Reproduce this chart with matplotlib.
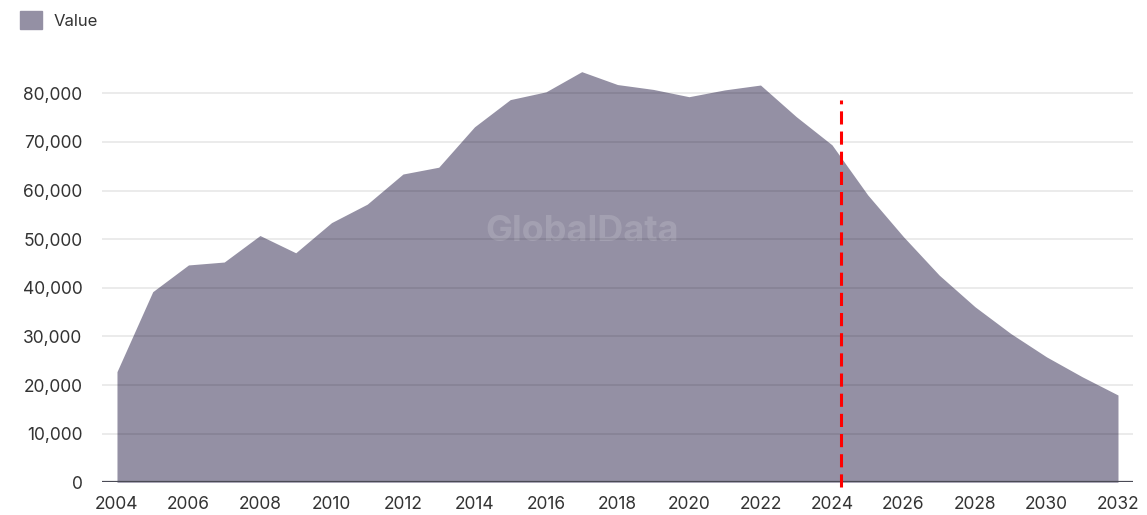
import matplotlib
matplotlib.use('Agg')
import matplotlib.pyplot as plt
from matplotlib.patches import Patch
from matplotlib.ticker import FuncFormatter

# data
years = list(range(2004, 2033))
values = [22750, 39200, 44700, 45300, 50750, 47200, 53400, 57200, 63400, 64800,
          73100, 78700, 80300, 84450, 81800, 80800, 79300, 80700, 81700, 75200,
          69400, 59100, 50500, 42600, 36100, 30600, 25800, 21700, 17950]
year_ticks = list(range(2004, 2033, 2))
value_ticks = [0, 10000, 20000, 30000, 40000, 50000, 60000, 70000, 80000]
forecast_start = 2024.26
series_name = 'Value'

fill_color = '#9490a4'
text_color = '#333333'

plt.rcParams['font.family'] = ['Inter', 'DejaVu Sans']

fig = plt.figure(figsize=(11.47, 5.15), dpi=100)
ax = fig.add_axes([0.0889, 0.0635, 0.8989, 0.820])

ax.fill_between(years, values, 0, color=fill_color, linewidth=0, zorder=1)

ax.set_xlim(2003.58, 2032.42)
ax.set_ylim(0, 86850)
ax.set_xticks(year_ticks)
ax.set_yticks(value_ticks)
ax.yaxis.set_major_formatter(FuncFormatter(lambda v, p: f'{int(v):,}'))
ax.tick_params(length=0, labelsize=12.5, labelcolor=text_color)
ax.tick_params(axis='x', pad=10)
ax.tick_params(axis='y', pad=14)

for s in ax.spines.values():
    s.set_visible(False)

ax.set_axisbelow(False)
ax.grid(axis='y', color='black', alpha=0.1, linewidth=1.1)
ax.axhline(0, color='#4a4a55', linewidth=1.6, zorder=3)

# forecast marker
ax.plot([forecast_start, forecast_start], [-1000, 78600], color='red',
        linewidth=2.2, dashes=(4.3, 2.3), clip_on=False, zorder=4)

# watermark
ax.text(0.4656, 0.593, 'GlobalData', transform=ax.transAxes, ha='center',
        va='center', fontsize=26, fontweight='bold', color='white', alpha=0.15,
        zorder=2)

fig.legend(handles=[Patch(color=fill_color, label=series_name)],
           loc='upper left', bbox_to_anchor=(0.0174, 0.978), frameon=False,
           fontsize=12, handlelength=1.3, handleheight=1.3,
           handletextpad=0.7, borderpad=0, borderaxespad=0,
           labelcolor=text_color)

fig.savefig('out.png', dpi=100)
